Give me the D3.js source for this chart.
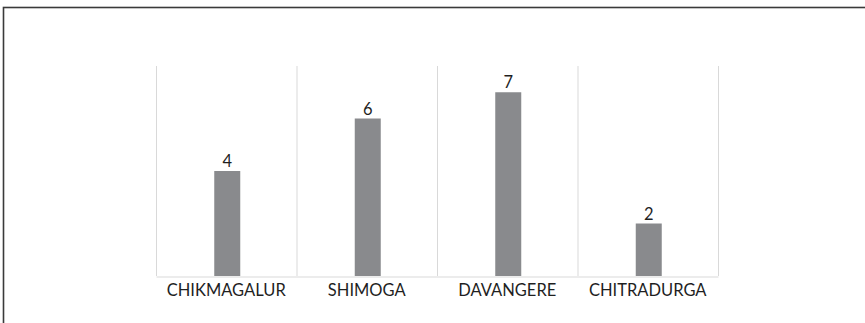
<!DOCTYPE html>
<html><head><meta charset="utf-8">
<script src="https://cdn.jsdelivr.net/npm/d3@7"></script>
<style>html,body{margin:0;padding:0;background:#fff;overflow:hidden}</style>
</head><body><svg id="c" width="865" height="323"></svg>
<script>
const categories = ["CHIKMAGALUR", "SHIMOGA", "DAVANGERE", "CHITRADURGA"];
const values = [4, 6, 7, 2];
const yMax = 8;

(function () {
const svg = d3.select("#c");
const mLeft = 156, mRight = 718, mTop = 66, mBottom = 276;
const font = "Lato, 'Open Sans', sans-serif";

svg.append("rect").attr("x", 3.5).attr("y", 7.5).attr("width", 900).attr("height", 400)
  .attr("fill", "none").attr("stroke", "#3a3a3a").attr("stroke-width", 1.6);

const x = d3.scaleBand().domain(categories).range([mLeft, mRight]).paddingInner(0).paddingOuter(0);
const y = d3.scaleLinear().domain([0, yMax]).range([mBottom, mTop]);

const bounds = categories.map(c => x(c)).concat([mRight]);
svg.append("g").selectAll("line").data(bounds).join("line")
  .attr("x1", d => d + 0.5).attr("x2", d => d + 0.5)
  .attr("y1", y(yMax)).attr("y2", y(0))
  .attr("stroke", "#d9d9d9").attr("stroke-width", 1);

const ax = svg.append("g").attr("transform", `translate(0,${y(0) + 0.5})`)
  .call(d3.axisBottom(x).tickSize(0).tickPadding(8));
ax.select(".domain").attr("stroke", "#d9d9d9");
ax.selectAll("text").attr("font-family", font).attr("font-size", 16.5).attr("fill", "#1f1f1f");

const bw = 26;
svg.append("g").selectAll("rect").data(values).join("rect")
  .attr("x", (d, i) => x(categories[i]) + x.bandwidth() / 2 - bw / 2 + 1)
  .attr("y", d => y(d))
  .attr("width", bw)
  .attr("height", d => y(0) - y(d))
  .attr("fill", "#898a8d");

svg.append("g").selectAll("text").data(values).join("text")
  .attr("x", (d, i) => x(categories[i]) + x.bandwidth() / 2 + 1)
  .attr("y", d => y(d) - 4)
  .attr("text-anchor", "middle")
  .attr("font-family", font).attr("font-size", 16.5).attr("fill", "#1f1f1f")
  .text(d => d);
})();
</script></body></html>
